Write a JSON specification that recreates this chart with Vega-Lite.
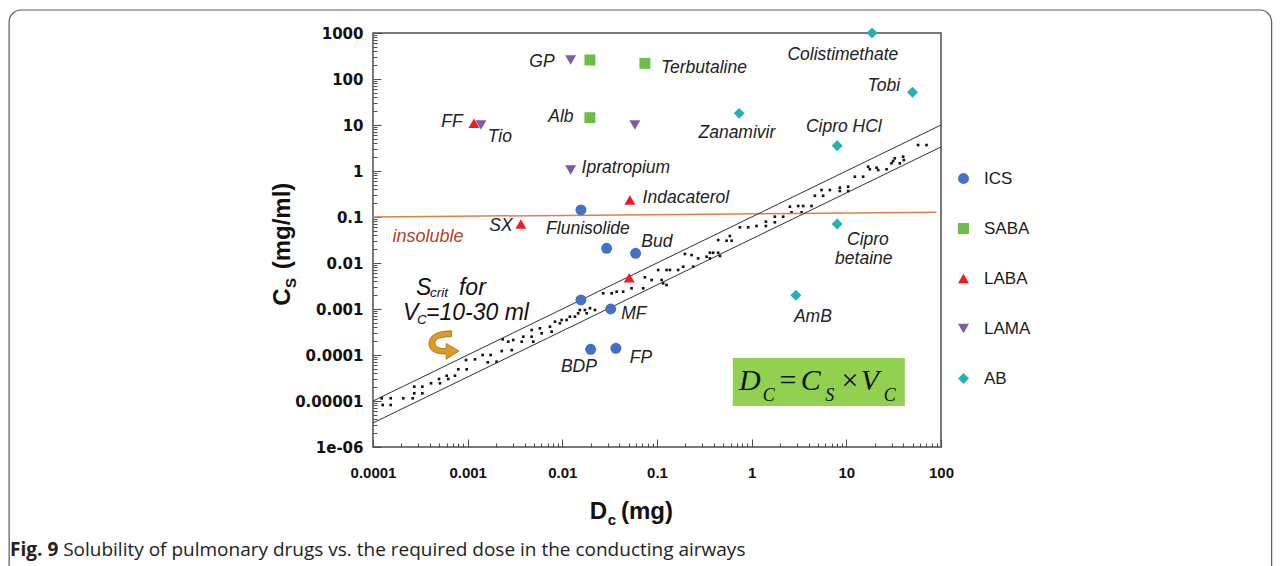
{
  "$schema": "https://vega.github.io/schema/vega-lite/v6.json",
  "width": 568,
  "height": 414,
  "autosize": "none",
  "padding": {"left": 373, "top": 33, "right": 340, "bottom": 119},
  "background": "white",
  "config": {
    "view": {"stroke": "#4d4d4d", "strokeWidth": 1.5},
    "font": "Liberation Sans",
    "legend": {"symbolSize": 120, "labelFontSize": 17, "labelFont": "Liberation Sans", "labelColor": "#1a1a1a", "rowPadding": 32, "labelOffset": 12, "padding": 0, "symbolStrokeWidth": 0}
  },
  "datasets": {
    "scrit": [
      {"dose": 0.0001236, "cs": 0.00001146}, {"dose": 0.0001265, "cs": 0.00000818}, {"dose": 0.0001538, "cs": 0.00001146}, {"dose": 0.0001538, "cs": 0.00000818},
      {"dose": 0.000209, "cs": 0.00001146}, {"dose": 0.0002626, "cs": 0.00001146}, {"dose": 0.000273, "cs": 0.0000147}, {"dose": 0.000273, "cs": 0.0000205},
      {"dose": 0.000332, "cs": 0.0000205}, {"dose": 0.000332, "cs": 0.0000147}, {"dose": 0.00041, "cs": 0.0000243}, {"dose": 0.000498, "cs": 0.0000301},
      {"dose": 0.00051, "cs": 0.0000243}, {"dose": 0.0006, "cs": 0.0000355}, {"dose": 0.000624, "cs": 0.0000301}, {"dose": 0.000734, "cs": 0.0000355},
      {"dose": 0.000796, "cs": 0.0000489}, {"dose": 0.000976, "cs": 0.0000489}, {"dose": 0.00096, "cs": 0.0000779}, {"dose": 0.001194, "cs": 0.0000806},
      {"dose": 0.00144, "cs": 0.0001}, {"dose": 0.00175, "cs": 0.0001}, {"dose": 0.00163, "cs": 0.0000694}, {"dose": 0.00202, "cs": 0.0000715},
      {"dose": 0.00234, "cs": 0.000219}, {"dose": 0.00229, "cs": 0.000122}, {"dose": 0.00268, "cs": 0.000195}, {"dose": 0.00292, "cs": 0.000128},
      {"dose": 0.00303, "cs": 0.000212}, {"dose": 0.00372, "cs": 0.000195}, {"dose": 0.00387, "cs": 0.00025}, {"dose": 0.00474, "cs": 0.00025},
      {"dose": 0.00493, "cs": 0.000195}, {"dose": 0.00474, "cs": 0.000349}, {"dose": 0.0058, "cs": 0.00038}, {"dose": 0.00605, "cs": 0.000296},
      {"dose": 0.0074, "cs": 0.000412}, {"dose": 0.00771, "cs": 0.000321}, {"dose": 0.00836, "cs": 0.00053}, {"dose": 0.00943, "cs": 0.000489},
      {"dose": 0.00983, "cs": 0.000577}, {"dose": 0.0111, "cs": 0.000577}, {"dose": 0.012, "cs": 0.000681}, {"dose": 0.0136, "cs": 0.000681},
      {"dose": 0.0147, "cs": 0.000807}, {"dose": 0.0153, "cs": 0.000951}, {"dose": 0.0173, "cs": 0.000951}, {"dose": 0.0181, "cs": 0.000807},
      {"dose": 0.0196, "cs": 0.00104}, {"dose": 0.0221, "cs": 0.000951}, {"dose": 0.027, "cs": 0.00219}, {"dose": 0.0332, "cs": 0.00219},
      {"dose": 0.0375, "cs": 0.00238}, {"dose": 0.0439, "cs": 0.00238}, {"dose": 0.0539, "cs": 0.00282}, {"dose": 0.0715, "cs": 0.00282},
      {"dose": 0.0745, "cs": 0.00489}, {"dose": 0.0877, "cs": 0.00427}, {"dose": 0.103, "cs": 0.00705}, {"dose": 0.112, "cs": 0.00427},
      {"dose": 0.116, "cs": 0.00362}, {"dose": 0.126, "cs": 0.00705}, {"dose": 0.137, "cs": 0.00705}, {"dose": 0.126, "cs": 0.00333},
      {"dose": 0.167, "cs": 0.00705}, {"dose": 0.189, "cs": 0.00831}, {"dose": 0.197, "cs": 0.0157}, {"dose": 0.232, "cs": 0.0149},
      {"dose": 0.241, "cs": 0.00831}, {"dose": 0.272, "cs": 0.0126}, {"dose": 0.334, "cs": 0.0137}, {"dose": 0.362, "cs": 0.0167},
      {"dose": 0.392, "cs": 0.0167}, {"dose": 0.443, "cs": 0.0167}, {"dose": 0.462, "cs": 0.0142}, {"dose": 0.362, "cs": 0.0126},
      {"dose": 0.443, "cs": 0.0316}, {"dose": 0.543, "cs": 0.0305}, {"dose": 0.589, "cs": 0.0386}, {"dose": 0.614, "cs": 0.0305},
      {"dose": 0.751, "cs": 0.0597}, {"dose": 0.919, "cs": 0.0597}, {"dose": 1.127, "cs": 0.0637}, {"dose": 1.413, "cs": 0.0791},
      {"dose": 1.413, "cs": 0.0637}, {"dose": 1.758, "cs": 0.1016}, {"dose": 1.758, "cs": 0.0767}, {"dose": 2.152, "cs": 0.1016},
      {"dose": 2.532, "cs": 0.1675}, {"dose": 2.639, "cs": 0.1265}, {"dose": 3.099, "cs": 0.1734}, {"dose": 3.366, "cs": 0.1265},
      {"dose": 3.5, "cs": 0.1734}, {"dose": 4.29, "cs": 0.1734}, {"dose": 4.65, "cs": 0.29}, {"dose": 5.47, "cs": 0.386},
      {"dose": 5.69, "cs": 0.29}, {"dose": 6.7, "cs": 0.386}, {"dose": 8.54, "cs": 0.434}, {"dose": 8.54, "cs": 0.367},
      {"dose": 10.45, "cs": 0.456}, {"dose": 10.45, "cs": 0.367}, {"dose": 12.3, "cs": 0.752}, {"dose": 15.05, "cs": 0.752},
      {"dose": 17.0, "cs": 1.24}, {"dose": 17.7, "cs": 1.09}, {"dose": 20.85, "cs": 1.18}, {"dose": 21.7, "cs": 1.05},
      {"dose": 26.6, "cs": 1.09}, {"dose": 30.0, "cs": 1.47}, {"dose": 31.2, "cs": 1.65}, {"dose": 32.5, "cs": 1.89},
      {"dose": 36.7, "cs": 1.47}, {"dose": 39.8, "cs": 2.05}, {"dose": 40.5, "cs": 1.73}, {"dose": 57.3, "cs": 3.67},
      {"dose": 70.3, "cs": 3.67}
    ],
    "drugs": [
      {"drug": "Flunisolide", "group": "ICS", "dose": 0.01572, "cs": 0.142},
      {"drug": "", "group": "ICS", "dose": 0.02936, "cs": 0.0209},
      {"drug": "Bud", "group": "ICS", "dose": 0.0594, "cs": 0.01626},
      {"drug": "", "group": "ICS", "dose": 0.01572, "cs": 0.00157},
      {"drug": "MF", "group": "ICS", "dose": 0.0324, "cs": 0.001},
      {"drug": "BDP", "group": "ICS", "dose": 0.0199, "cs": 0.000133},
      {"drug": "FP", "group": "ICS", "dose": 0.0368, "cs": 0.00014},
      {"drug": "", "group": "SABA", "dose": 0.01956, "cs": 259},
      {"drug": "Terbutaline", "group": "SABA", "dose": 0.0745, "cs": 219},
      {"drug": "Alb", "group": "SABA", "dose": 0.01956, "cs": 14.4},
      {"drug": "FF", "group": "LABA", "dose": 0.001165, "cs": 10.9},
      {"drug": "SX", "group": "LABA", "dose": 0.00365, "cs": 0.0705},
      {"drug": "Indacaterol", "group": "LABA", "dose": 0.0517, "cs": 0.234},
      {"drug": "", "group": "LABA", "dose": 0.0509, "cs": 0.00479},
      {"drug": "GP", "group": "LAMA", "dose": 0.01224, "cs": 259},
      {"drug": "Tio", "group": "LAMA", "dose": 0.001381, "cs": 10},
      {"drug": "", "group": "LAMA", "dose": 0.0584, "cs": 10},
      {"drug": "Ipratropium", "group": "LAMA", "dose": 0.01224, "cs": 1.05},
      {"drug": "Colistimethate", "group": "AB", "dose": 18.7, "cs": 1000},
      {"drug": "Tobi", "group": "AB", "dose": 50.0, "cs": 51.4},
      {"drug": "Zanamivir", "group": "AB", "dose": 0.738, "cs": 17.9},
      {"drug": "Cipro HCl", "group": "AB", "dose": 8.0, "cs": 3.55},
      {"drug": "Cipro betaine", "group": "AB", "dose": 8.0, "cs": 0.0705},
      {"drug": "AmB", "group": "AB", "dose": 2.93, "cs": 0.00199}
    ],
    "druglabels": [
      {"t": "GP", "dose": 0.00609, "cs": 234},
      {"t": "Terbutaline", "dose": 0.313, "cs": 173},
      {"t": "Colistimethate", "dose": 9.18, "cs": 332},
      {"t": "Tobi", "dose": 24.9, "cs": 70.4},
      {"t": "Zanamivir", "dose": 0.698, "cs": 6.7},
      {"t": "Cipro  HCl", "dose": 9.41, "cs": 9.05},
      {"t": "Indacaterol", "dose": 0.202, "cs": 0.259},
      {"t": "Ipratropium", "dose": 0.0469, "cs": 1.16},
      {"t": "Alb", "dose": 0.00966, "cs": 14.9},
      {"t": "FF", "dose": 0.000683, "cs": 11.6},
      {"t": "Tio", "dose": 0.00219, "cs": 5.49},
      {"t": "SX", "dose": 0.00225, "cs": 0.0637},
      {"t": "Flunisolide", "dose": 0.01863, "cs": 0.0548},
      {"t": "Bud", "dose": 0.0998, "cs": 0.0286},
      {"t": "Cipro", "dose": 16.9, "cs": 0.0316},
      {"t": "betaine", "dose": 15.3, "cs": 0.01222},
      {"t": "AmB", "dose": 4.43, "cs": 0.00067},
      {"t": "MF", "dose": 0.057, "cs": 0.000778},
      {"t": "BDP", "dose": 0.01497, "cs": 0.0000548},
      {"t": "FP", "dose": 0.0676, "cs": 0.0000861}
    ]
  },
  "layer": [
    {
      "data": {"values": [{}]},
      "mark": {"type": "rect", "fill": "white", "fillOpacity": 0, "stroke": "#5a5a5a", "strokeWidth": 1.2, "cornerRadius": 12, "clip": false},
      "encoding": {"x": {"datum": 1.433e-8}, "x2": {"datum": 311000}, "y": {"datum": 3162}, "y2": {"datum": 4.7e-10}}
    },
    {
      "data": {"values": [{}]},
      "mark": {"type": "rect", "fill": "#92d050"},
      "encoding": {"x": {"datum": 0.632}, "x2": {"datum": 41.5}, "y": {"datum": 0.000086}, "y2": {"datum": 0.0000078}}
    },
    {
      "data": {"name": "scrit"},
      "mark": {"type": "square", "size": 7, "color": "#111111", "opacity": 1},
      "encoding": {
        "x": {"field": "dose", "type": "quantitative",
          "scale": {"type": "log", "domain": [0.0001, 100], "nice": false},
          "axis": {"title": null, "grid": false, "domain": false,
            "values": [0.0001,0.0002,0.0003,0.0004,0.0005,0.0006,0.0007,0.0008,0.0009,0.001,0.002,0.003,0.004,0.005,0.006,0.007,0.008,0.009,0.01,0.02,0.03,0.04,0.05,0.06,0.07,0.08,0.09,0.1,0.2,0.3,0.4,0.5,0.6,0.7,0.8,0.9,1,2,3,4,5,6,7,8,9,10,20,30,40,50,60,70,80,90,100],
            "labelExpr": "abs(log(datum.value)/LN10 - round(log(datum.value)/LN10)) < 0.001 ? toString(datum.value) : ''",
            "labelFont": "Liberation Sans", "labelFontWeight": "bold", "labelFontSize": 15, "labelColor": "#111111",
            "labelOverlap": false, "labelFlush": false, "labelBound": false,
            "tickColor": "#4d4d4d", "tickWidth": 1,
            "tickSize": {"condition": {"test": "abs(log(datum.value)/LN10 - round(log(datum.value)/LN10)) < 0.001", "value": -8}, "value": -4},
            "labelPadding": 26}},
        "y": {"field": "cs", "type": "quantitative",
          "scale": {"type": "log", "domain": [0.000001, 1000], "nice": false},
          "axis": {"title": null, "grid": false, "domain": false,
            "values": [0.000001,0.000002,0.000003,0.000004,0.000005,0.000006,0.000007,0.000008,0.000009,0.00001,0.00002,0.00003,0.00004,0.00005,0.00006,0.00007,0.00008,0.00009,0.0001,0.0002,0.0003,0.0004,0.0005,0.0006,0.0007,0.0008,0.0009,0.001,0.002,0.003,0.004,0.005,0.006,0.007,0.008,0.009,0.01,0.02,0.03,0.04,0.05,0.06,0.07,0.08,0.09,0.1,0.2,0.3,0.4,0.5,0.6,0.7,0.8,0.9,1,2,3,4,5,6,7,8,9,10,20,30,40,50,60,70,80,90,100,200,300,400,500,600,700,800,900,1000],
            "labelExpr": "abs(log(datum.value)/LN10 - round(log(datum.value)/LN10)) < 0.001 ? (datum.value < 0.0000015 ? '1e-06' : toString(datum.value)) : ''",
            "labelFont": "DejaVu Sans", "labelFontWeight": "bold", "labelFontSize": 15, "labelColor": "#111111",
            "labelOverlap": false, "labelFlush": false, "labelBound": false,
            "tickColor": "#4d4d4d", "tickWidth": 1,
            "tickSize": {"condition": {"test": "abs(log(datum.value)/LN10 - round(log(datum.value)/LN10)) < 0.001", "value": -8}, "value": -4},
            "labelPadding": 18}}
      }
    },
    {
      "data": {"values": [{"dose": 0.0001, "cs": 0.1}, {"dose": 89.7, "cs": 0.1265}]},
      "mark": {"type": "line", "color": "#d9834a", "strokeWidth": 1.5},
      "encoding": {"x": {"field": "dose", "type": "quantitative"}, "y": {"field": "cs", "type": "quantitative"}}
    },
    {
      "data": {"values": [
        {"vc": "10 ml", "dose": 0.0001, "cs": 0.00001}, {"vc": "10 ml", "dose": 100, "cs": 10},
        {"vc": "30 ml", "dose": 0.0001, "cs": 0.000003333}, {"vc": "30 ml", "dose": 100, "cs": 3.333}
      ]},
      "mark": {"type": "line", "color": "#333333", "strokeWidth": 1},
      "encoding": {"x": {"field": "dose", "type": "quantitative"}, "y": {"field": "cs", "type": "quantitative"}, "detail": {"field": "vc"}}
    },
    {
      "data": {"name": "drugs"},
      "mark": {"type": "point", "filled": true, "size": 120, "opacity": 1},
      "encoding": {
        "x": {"field": "dose", "type": "quantitative"},
        "y": {"field": "cs", "type": "quantitative"},
        "color": {"field": "group", "type": "nominal",
          "scale": {"domain": ["ICS", "SABA", "LABA", "LAMA", "AB"], "range": ["#4272c4", "#6cbf45", "#ee1d23", "#7d5ba6", "#1fb3b3"]},
          "legend": {"title": null, "orient": "none", "legendX": 582, "legendY": 137}},
        "shape": {"field": "group", "type": "nominal",
          "scale": {"domain": ["ICS", "SABA", "LABA", "LAMA", "AB"], "range": ["circle", "square", "triangle-up", "triangle-down", "diamond"]},
          "legend": {"title": null, "orient": "none", "legendX": 582, "legendY": 137}}
      }
    },
    {
      "data": {"name": "druglabels"},
      "mark": {"type": "text", "font": "Liberation Sans", "fontStyle": "italic", "fontSize": 17.5, "color": "#222222", "align": "center", "baseline": "middle"},
      "encoding": {"x": {"field": "dose", "type": "quantitative"}, "y": {"field": "cs", "type": "quantitative"}, "text": {"field": "t"}}
    },
    {
      "data": {"values": [{"t": "insoluble", "dose": 0.000381, "cs": 0.0367}]},
      "mark": {"type": "text", "font": "Liberation Sans", "fontStyle": "italic", "fontSize": 18, "color": "#b5412a", "align": "center", "baseline": "middle"},
      "encoding": {"x": {"field": "dose", "type": "quantitative"}, "y": {"field": "cs", "type": "quantitative"}, "text": {"field": "t"}}
    },
    {
      "data": {"values": [
        {"t": "S", "dose": 0.0002845, "cs": 0.00286}, {"t": "for", "dose": 0.000809, "cs": 0.00286},
        {"t": "V", "dose": 0.000207, "cs": 0.000818}, {"t": "=10-30 ml", "dose": 0.000363, "cs": 0.000818}
      ]},
      "mark": {"type": "text", "font": "Liberation Sans", "fontStyle": "italic", "fontSize": 23, "color": "#111111", "align": "left", "baseline": "middle"},
      "encoding": {"x": {"field": "dose", "type": "quantitative"}, "y": {"field": "cs", "type": "quantitative"}, "text": {"field": "t"}}
    },
    {
      "data": {"values": [
        {"t": "crit", "dose": 0.0004, "cs": 0.00223}, {"t": "C", "dose": 0.000291, "cs": 0.000577}
      ]},
      "mark": {"type": "text", "font": "Liberation Sans", "fontStyle": "italic", "fontSize": 13.5, "color": "#111111", "align": "left", "baseline": "middle"},
      "encoding": {"x": {"field": "dose", "type": "quantitative"}, "y": {"field": "cs", "type": "quantitative"}, "text": {"field": "t"}}
    },
    {
      "data": {"values": [{"dose": 0.000562, "cs": 0.000165}]},
      "mark": {"type": "point", "filled": true, "size": 900, "fill": "#dc9a28", "stroke": "#a86a10", "strokeWidth": 0.8, "opacity": 1,
        "shape": "M0.5,-0.95 C-0.5,-0.95 -1,-0.6 -1,-0.1 C-1,0.45 -0.5,0.6 0.15,0.6 L0.15,0.95 L1,0.4 L0.15,-0.1 L0.15,0.25 C-0.35,0.25 -0.6,0.1 -0.6,-0.15 C-0.6,-0.45 -0.2,-0.55 0.5,-0.55 Z"},
      "encoding": {"x": {"field": "dose", "type": "quantitative"}, "y": {"field": "cs", "type": "quantitative"}}
    },
    {
      "data": {"values": [
        {"t": "D", "dose": 0.957, "cs": 0.0000272}, {"t": "C", "dose": 4.22, "cs": 0.0000272}, {"t": "V", "dose": 17.7, "cs": 0.0000272}
      ]},
      "mark": {"type": "text", "font": "Liberation Serif", "fontStyle": "italic", "fontSize": 30, "color": "#111111", "align": "center", "baseline": "middle"},
      "encoding": {"x": {"field": "dose", "type": "quantitative"}, "y": {"field": "cs", "type": "quantitative"}, "text": {"field": "t"}}
    },
    {
      "data": {"values": [
        {"t": "=", "dose": 2.411, "cs": 0.0000272}, {"t": "×", "dose": 10.9, "cs": 0.0000272}
      ]},
      "mark": {"type": "text", "font": "Liberation Serif", "fontSize": 30, "color": "#111111", "align": "center", "baseline": "middle"},
      "encoding": {"x": {"field": "dose", "type": "quantitative"}, "y": {"field": "cs", "type": "quantitative"}, "text": {"field": "t"}}
    },
    {
      "data": {"values": [
        {"t": "C", "dose": 1.519, "cs": 0.00001285}, {"t": "S", "dose": 6.69, "cs": 0.00001285}, {"t": "C", "dose": 28.8, "cs": 0.00001285}
      ]},
      "mark": {"type": "text", "font": "Liberation Serif", "fontStyle": "italic", "fontSize": 18, "color": "#111111", "align": "center", "baseline": "middle"},
      "encoding": {"x": {"field": "dose", "type": "quantitative"}, "y": {"field": "cs", "type": "quantitative"}, "text": {"field": "t"}}
    },
    {
      "data": {"values": [
        {"t": "D", "dose": 0.02405, "cs": 3.86e-8}, {"t": "(mg)", "dose": 0.0782, "cs": 3.86e-8}
      ]},
      "mark": {"type": "text", "font": "Liberation Sans", "fontWeight": "bold", "fontSize": 24, "color": "#111111", "align": "center", "baseline": "middle"},
      "encoding": {"x": {"field": "dose", "type": "quantitative"}, "y": {"field": "cs", "type": "quantitative"}, "text": {"field": "t"}}
    },
    {
      "data": {"values": [{"t": "c", "dose": 0.03341, "cs": 2.59e-8}]},
      "mark": {"type": "text", "font": "Liberation Sans", "fontWeight": "bold", "fontSize": 15, "color": "#111111", "align": "center", "baseline": "middle"},
      "encoding": {"x": {"field": "dose", "type": "quantitative"}, "y": {"field": "cs", "type": "quantitative"}, "text": {"field": "t"}}
    },
    {
      "data": {"values": [
        {"t": "C", "dose": 0.0000112, "cs": 0.00182}, {"t": "(mg/ml)", "dose": 0.0000112, "cs": 0.0637}
      ]},
      "mark": {"type": "text", "font": "Liberation Sans", "fontWeight": "bold", "fontSize": 24, "color": "#111111", "align": "center", "baseline": "middle", "angle": 270},
      "encoding": {"x": {"field": "dose", "type": "quantitative"}, "y": {"field": "cs", "type": "quantitative"}, "text": {"field": "t"}}
    },
    {
      "data": {"values": [{"t": "S", "dose": 0.0000136, "cs": 0.00367}]},
      "mark": {"type": "text", "font": "Liberation Sans", "fontWeight": "bold", "fontSize": 15, "color": "#111111", "align": "center", "baseline": "middle", "angle": 270},
      "encoding": {"x": {"field": "dose", "type": "quantitative"}, "y": {"field": "cs", "type": "quantitative"}, "text": {"field": "t"}}
    },
    {
      "data": {"values": [{"t": "Fig. 9", "dose": 1.468e-8, "cs": 5.77e-9}]},
      "mark": {"type": "text", "font": "Open Sans", "fontWeight": "bold", "fontSize": 19, "color": "#222222", "align": "left", "baseline": "middle"},
      "encoding": {"x": {"field": "dose", "type": "quantitative"}, "y": {"field": "cs", "type": "quantitative"}, "text": {"field": "t"}}
    },
    {
      "data": {"values": [{"t": "Solubility of pulmonary drugs vs. the required dose in the conducting airways", "dose": 5.33e-8, "cs": 5.77e-9}]},
      "mark": {"type": "text", "font": "Open Sans", "fontSize": 19, "color": "#222222", "align": "left", "baseline": "middle"},
      "encoding": {"x": {"field": "dose", "type": "quantitative"}, "y": {"field": "cs", "type": "quantitative"}, "text": {"field": "t"}}
    }
  ]
}
